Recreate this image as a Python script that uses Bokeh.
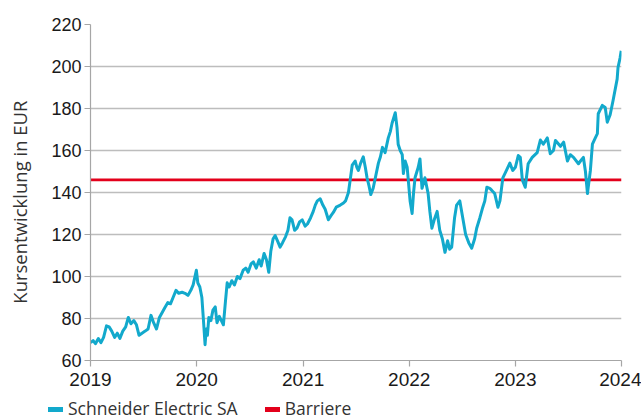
import pandas as pd
from bokeh.plotting import figure
from bokeh.layouts import column
from bokeh.models import (ColumnDataSource, FixedTicker, DatetimeTickFormatter,
                          Range1d, Div)
from bokeh.embed import file_html
from bokeh.resources import INLINE

# ---- data ----
dates = [
    "2019-01-01", "2019-01-10", "2019-01-18", "2019-01-28", "2019-02-06", "2019-02-15", "2019-02-25",
    "2019-03-06", "2019-03-15", "2019-03-25", "2019-04-03", "2019-04-12", "2019-04-22", "2019-05-02",
    "2019-05-11", "2019-05-20", "2019-05-30", "2019-06-08", "2019-06-17", "2019-06-27", "2019-07-08",
    "2019-07-18", "2019-07-28", "2019-08-06", "2019-08-16", "2019-08-26", "2019-09-05", "2019-09-13",
    "2019-09-24", "2019-10-03", "2019-10-12", "2019-10-22", "2019-10-31", "2019-11-12", "2019-11-22",
    "2019-12-02", "2019-12-12", "2019-12-20", "2019-12-31",
    "2020-01-05", "2020-01-12", "2020-01-19", "2020-01-24", "2020-01-30", "2020-02-03", "2020-02-07",
    "2020-02-12", "2020-02-19", "2020-02-26", "2020-03-05", "2020-03-11", "2020-03-19", "2020-03-26",
    "2020-04-02", "2020-04-09", "2020-04-15", "2020-04-22", "2020-05-01", "2020-05-10", "2020-05-20",
    "2020-05-29", "2020-06-09", "2020-06-18", "2020-06-26", "2020-07-06", "2020-07-14", "2020-07-24",
    "2020-08-03", "2020-08-10", "2020-08-20", "2020-08-28", "2020-09-05", "2020-09-12", "2020-09-20",
    "2020-09-27", "2020-10-05", "2020-10-14", "2020-10-22", "2020-11-02", "2020-11-10", "2020-11-17",
    "2020-11-24", "2020-12-03", "2020-12-11", "2020-12-20", "2020-12-29",
    "2021-01-08", "2021-01-16", "2021-01-27", "2021-02-05", "2021-02-12", "2021-02-19", "2021-03-01",
    "2021-03-10", "2021-03-18", "2021-03-29", "2021-04-07", "2021-04-15", "2021-04-25", "2021-05-09",
    "2021-05-20", "2021-05-27", "2021-06-06", "2021-06-14", "2021-06-19", "2021-06-29", "2021-07-05",
    "2021-07-10", "2021-07-18", "2021-07-27", "2021-08-03", "2021-08-09", "2021-08-16", "2021-08-22",
    "2021-08-30", "2021-09-08", "2021-09-17", "2021-09-24", "2021-10-01", "2021-10-10", "2021-10-21",
    "2021-10-28", "2021-11-03", "2021-11-14", "2021-11-20", "2021-11-24", "2021-12-01", "2021-12-08",
    "2021-12-12", "2021-12-18", "2021-12-25",
    "2022-01-04", "2022-01-11", "2022-01-16", "2022-01-21", "2022-02-01", "2022-02-07", "2022-02-14",
    "2022-02-24", "2022-03-07", "2022-03-13", "2022-03-20", "2022-03-28", "2022-04-07", "2022-04-16",
    "2022-04-25", "2022-05-04", "2022-05-13", "2022-05-20", "2022-05-27", "2022-06-06", "2022-06-13",
    "2022-06-24", "2022-07-04", "2022-07-14", "2022-07-25", "2022-08-04", "2022-08-14", "2022-08-21",
    "2022-09-01", "2022-09-11", "2022-09-18", "2022-09-25", "2022-10-05", "2022-10-12", "2022-10-22",
    "2022-11-02", "2022-11-09", "2022-11-19", "2022-12-03", "2022-12-13", "2022-12-23",
    "2023-01-01", "2023-01-11", "2023-01-18", "2023-01-25", "2023-02-04", "2023-02-14", "2023-02-28",
    "2023-03-17", "2023-03-28", "2023-04-07", "2023-04-21", "2023-05-01", "2023-05-12", "2023-05-19",
    "2023-06-05", "2023-06-16", "2023-06-29", "2023-07-09", "2023-07-20", "2023-08-06", "2023-08-13",
    "2023-08-23", "2023-08-30", "2023-09-06", "2023-09-09", "2023-09-16", "2023-09-23", "2023-10-03",
    "2023-10-10", "2023-10-13", "2023-10-27", "2023-11-06", "2023-11-13", "2023-11-23", "2023-12-03",
    "2023-12-17", "2023-12-20", "2023-12-27", "2023-12-31",
]
prices = [
    68.5, 69.5, 68, 70.5, 68.5, 71, 76.5,
    76, 74, 71, 73, 70.5, 74, 76,
    80.5, 77.5, 79, 77, 72, 73, 74,
    75, 81.5, 78, 75, 80.5, 83, 85,
    87.6, 87, 90, 93.4, 92, 92.5, 92,
    91, 93.4, 96, 103,
    97, 95, 90, 80, 67.5, 75, 72,
    80.5, 79, 84, 85.5, 78, 81, 79,
    77, 88, 97, 95, 98, 96, 100,
    99, 103, 104, 102, 106, 107, 104,
    108, 105, 111, 108, 102, 112, 118,
    119.5, 117, 114, 116, 119, 122, 128,
    127, 122, 123, 126, 127,
    124, 125, 128, 131, 134, 136, 137,
    134, 132, 127, 129, 130.5, 133, 134,
    135, 136, 140, 148, 153, 155, 152,
    150.5, 154, 157, 152, 147, 143, 139,
    142, 148, 154, 157, 161.5, 159, 166,
    169, 173, 178, 171, 163, 160, 158,
    149, 155, 152,
    136, 130, 140, 147, 152, 156, 142,
    147, 139.5, 131, 123, 127, 131, 122,
    118, 111.5, 117, 113, 114, 128, 134,
    136, 128, 120, 116, 113.5, 118, 123,
    128, 133, 136, 142.5, 142, 141, 139.5,
    133, 136, 147, 151, 154, 150.5,
    152, 157.6, 156.7, 146, 142.5, 153.7, 156.7,
    159, 165, 163, 166, 158.5, 160, 164.8,
    162, 164, 155, 158, 156.7, 153.7, 155,
    156.7, 150, 139.5, 143, 150.5, 163, 166,
    168, 177.5, 181.5, 180.5, 173.5, 177, 183.8,
    194, 199.5, 204, 207.5,
]
barrier_level = 146
barrier_dates = ["2019-01-01", "2024-01-01"]
year_ticks = [2019, 2020, 2021, 2022, 2023, 2024]
y_ticks = [60, 80, 100, 120, 140, 160, 180, 200, 220]
series_name = "Schneider Electric SA"
barrier_name = "Barriere"
y_label = "Kursentwicklung in EUR"

CYAN = "#12A9CC"
RED = "#E3001B"

# ---- main chart ----
src = ColumnDataSource(dict(x=pd.to_datetime(dates), y=prices))
bsrc = ColumnDataSource(dict(x=pd.to_datetime(barrier_dates), y=[barrier_level] * len(barrier_dates)))

x0 = pd.Timestamp(f"{year_ticks[0]}-01-01")
x1 = pd.Timestamp(f"{year_ticks[-1]}-01-01")

p = figure(width=641, height=398, output_backend="svg", toolbar_location=None,
           x_axis_type="datetime",
           x_range=Range1d(x0, x1), y_range=Range1d(y_ticks[0], y_ticks[-1]),
           min_border_left=90, min_border_right=20, min_border_top=24, min_border_bottom=38)
p.outline_line_color = None
p.background_fill_color = "white"
p.border_fill_color = "white"

p.line("x", "y", source=bsrc, line_color=RED, line_width=2.6)
p.line("x", "y", source=src, line_color=CYAN, line_width=3.0, line_join="round")

tick_ms = [pd.Timestamp(f"{y}-01-01").value // 10**6 for y in year_ticks]
xa = p.xaxis[0]
xa.ticker = FixedTicker(ticks=tick_ms)
xa.formatter = DatetimeTickFormatter(years="%Y", months="%Y", days="%Y", hours="%Y",
                                     minutes="%Y", seconds="%Y", milliseconds="%Y",
                                     microseconds="%Y", hourmin="%Y", minsec="%Y")
ya = p.yaxis[0]
ya.ticker = FixedTicker(ticks=y_ticks)

for ax in (xa, ya):
    ax.axis_line_color = "#A6A6A6"
    ax.axis_line_width = 1.2
    ax.major_tick_line_color = "#A6A6A6"
    ax.major_tick_line_width = 1.2
    ax.major_tick_in = 0
    ax.major_tick_out = 6
    ax.minor_tick_line_color = None
    ax.major_label_text_font = "Liberation Sans"
    ax.major_label_text_color = "#1A1A1A"
xa.major_label_text_font_size = "19px"
ya.major_label_text_font_size = "18px"
xa.major_label_standoff = 6
ya.major_label_standoff = 3

ya.axis_label = y_label + "\u00a0" * 4
ya.axis_label_text_font = "Open Sans"
ya.axis_label_text_font_style = "normal"
ya.axis_label_text_font_size = "18.5px"
ya.axis_label_text_color = "#333333"
ya.axis_label_standoff = 16

p.xgrid.grid_line_color = None
p.ygrid.ticker = FixedTicker(ticks=y_ticks)
p.ygrid.grid_line_color = "#BDBDBD"
p.ygrid.grid_line_width = 1.3

# ---- legend strip below the chart (real text) ----
def swatch(color):
    return (f'<span style="display:inline-block;width:15px;height:4.5px;background:{color};'
            f'vertical-align:middle;margin-right:5px;position:relative;top:-1px"></span>')

legend_html = (
    '<div style="white-space:nowrap;font-family:\'Open Sans\';font-size:17.5px;'
    'color:#333333;line-height:21px;padding-left:48px">'
    f'{swatch(CYAN)}<span>{series_name}</span>'
    f'<span style="display:inline-block;width:27px"></span>'
    f'{swatch(RED)}<span>{barrier_name}</span>'
    '</div>'
)
legend_div = Div(text=legend_html, width=641, height=21, margin=(0, 0, 0, 0))

layout = column(p, legend_div, spacing=0)
open("out.html", "w").write(file_html(layout, INLINE))
